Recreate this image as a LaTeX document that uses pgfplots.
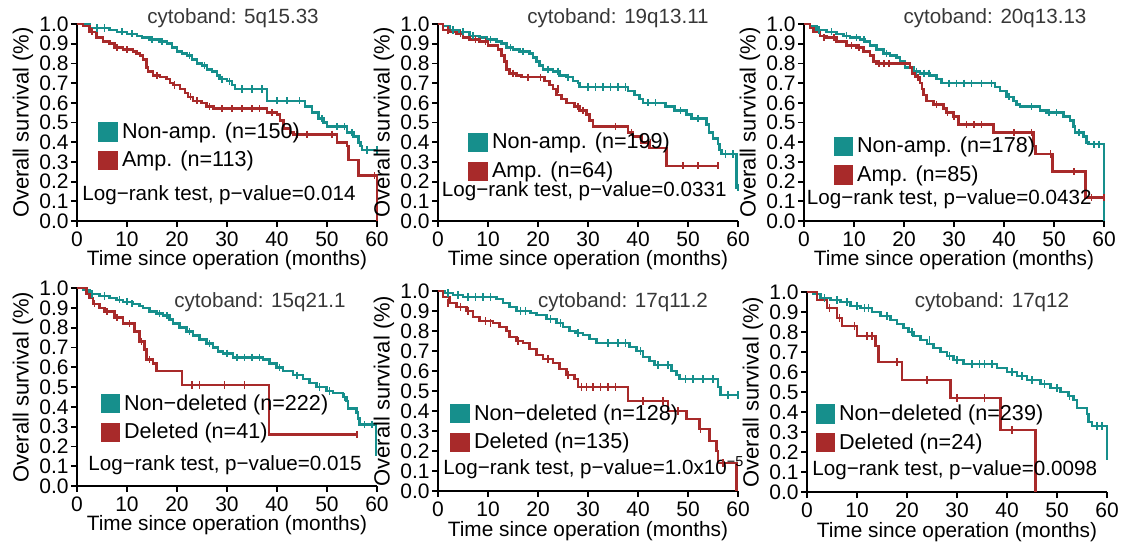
\documentclass[border=0pt]{standalone}
\usepackage{fontspec}
\setmainfont{Liberation Sans}
\usepackage{pgfplots}
\pgfplotsset{compat=1.18}
\definecolor{kmteal}{RGB}{22,143,140}
\definecolor{kmred}{RGB}{168,42,42}
\definecolor{ttl}{RGB}{55,55,55}
\tikzset{
 ttlnode/.style={font=\fontsize{10.3}{11}\selectfont, text=ttl},
 lrnode/.style={anchor=west, font=\fontsize{10.3}{11}\selectfont, inner sep=0pt},
}
\pgfplotsset{
 km/.style={
  scale only axis, width=150pt, height=98.5pt,
  xmin=0, xmax=60, ymin=0, ymax=1,
  axis x line*=bottom, axis y line*=left,
  axis line style={line width=0.9pt},
  xtick={0,10,20,30,40,50,60}, ytick={0,0.1,0.2,0.3,0.4,0.5,0.6,0.7,0.8,0.9,1},
  tick align=outside, tick style={line width=0.9pt, black}, major tick length=3pt,
  /pgf/number format/assume math mode=true,
  y tick label style={/pgf/number format/fixed, /pgf/number format/fixed zerofill, /pgf/number format/precision=1, inner sep=1pt},
  x tick label style={inner sep=2pt},
  tick label style={font=\fontsize{10.5}{11}\selectfont},
  xlabel={Time since operation (months)}, ylabel={Overall survival (\%)},
  xlabel style={font=\fontsize{10.4}{11}\selectfont, at={(axis description cs:0.5,-0.2)}, anchor=center},
  ylabel style={font=\fontsize{11}{12}\selectfont, at={(axis description cs:-0.18,0.5)}, anchor=center},
  clip=false,
  legend cell align=left,
  legend style={draw=none, fill=none, font=\fontsize{10.8}{12}\selectfont, inner sep=0pt, row sep=1pt, anchor=west},
  legend image code/.code={\fill[##1] (0pt,-4.2pt) rectangle (8.5pt,4.2pt);},
 },
 kmline/.style={const plot, line width=1.3pt, no marks},
 cens/.style={only marks, mark=|, mark size=1.8pt, mark options={line width=0.75pt}, forget plot},
}
\begin{document}
\begin{tikzpicture}
\useasboundingbox (0,0) rectangle (562.5pt,-271pt);
% ---------- Panel 1 ----------
\begin{axis}[km, at={(38.5pt,-12pt)}, anchor=north west, legend style={at={(0.07,0.38)}}]
\addplot[kmline, color=kmteal] coordinates {(0,1) (2.5,0.98) (6.5,0.97) (8,0.96) (10,0.95) (12,0.94) (13,0.93) (14.5,0.92) (16.5,0.91) (18,0.90) (19,0.88) (20,0.86) (21,0.85) (22,0.84) (23,0.82) (24,0.80) (25,0.79) (26,0.77) (27,0.76) (28,0.74) (28.5,0.72) (30,0.71) (31,0.69) (31.6,0.67) (38,0.61) (45.6,0.58) (47,0.55) (48.3,0.52) (49.3,0.50) (50,0.48) (54,0.45) (55.3,0.43) (56.3,0.40) (56.7,0.38) (57,0.36) (60,0.36)};
\addlegendentry{Non-amp. (n=150)}
\addplot[kmline, color=kmred] coordinates {(0,1) (1.2,0.99) (2.5,0.96) (3.9,0.93) (5.2,0.91) (6.5,0.90) (7.5,0.88) (9.2,0.87) (11.2,0.86) (11.9,0.85) (12.6,0.84) (13.2,0.82) (13.9,0.78) (14.2,0.76) (15.2,0.74) (16.6,0.73) (17.9,0.72) (18.6,0.70) (19.2,0.69) (20.6,0.67) (21.6,0.65) (22.2,0.63) (23.2,0.61) (24.9,0.60) (25.9,0.58) (27.3,0.57) (38,0.55) (40,0.54) (40.6,0.51) (41.3,0.47) (42.6,0.45) (43.3,0.44) (52,0.40) (54,0.38) (54.3,0.31) (56.3,0.23) (60,0.23) (60,0)};
\addlegendentry{Amp. (n=113)}
\addplot[cens, color=kmteal] coordinates {(4,0.98) (5.5,0.98) (9,0.96) (11,0.95) (15,0.92) (17,0.91) (22.5,0.84) (25.5,0.79) (29,0.72) (30.5,0.71) (33,0.67) (35,0.67) (37,0.67) (40,0.61) (42,0.61) (44.5,0.61) (49,0.52) (52,0.48) (53.5,0.48) (55,0.45) (58,0.36) (60,0.36)};
\addplot[cens, color=kmred] coordinates {(3,0.96) (8,0.88) (10,0.87) (16,0.74) (19.5,0.69) (22.7,0.63) (24,0.61) (26.5,0.58) (29,0.57) (31,0.57) (33,0.57) (35,0.57) (36.5,0.57) (39,0.55) (44,0.44) (46,0.44) (51,0.44) (59.5,0.23)};
\node[ttlnode] at (axis cs:31.2,1.03) {cytoband: 5q15.33};
\node[lrnode] at (axis cs:1.0,0.13) {Log−rank test, p−value=0.014};
\end{axis}
% ---------- Panel 2 ----------
\begin{axis}[km, at={(219pt,-12pt)}, anchor=north west, legend style={at={(0.1,0.325)}}]
\addplot[kmline, color=kmteal] coordinates {(0,1) (1,0.99) (2.3,0.97) (4.3,0.96) (6.3,0.94) (8.3,0.93) (9.7,0.92) (11.7,0.91) (12.7,0.90) (13.7,0.88) (15,0.87) (16.3,0.86) (18.3,0.85) (19,0.83) (19.7,0.81) (20.3,0.79) (21,0.77) (23,0.76) (24.3,0.74) (25.7,0.73) (27,0.71) (28,0.70) (28.3,0.68) (38,0.66) (39.3,0.64) (40.3,0.62) (41,0.60) (45.5,0.58) (47.3,0.56) (49.7,0.54) (50.7,0.52) (53.7,0.49) (54.2,0.45) (55,0.42) (56,0.39) (56.3,0.36) (56.7,0.34) (59.7,0.17) (60,0.17)};
\addlegendentry{Non-amp. (n=199)}
\addplot[kmline, color=kmred] coordinates {(0,1) (1,0.97) (2.3,0.96) (3.7,0.95) (5,0.93) (6.3,0.92) (8.3,0.91) (10,0.89) (12,0.87) (12.7,0.84) (13.3,0.81) (13.7,0.77) (14.3,0.75) (15.7,0.74) (16.7,0.73) (21.3,0.71) (22.3,0.69) (23,0.67) (23.7,0.64) (24.7,0.62) (25.7,0.60) (27.3,0.58) (28.3,0.56) (29.7,0.54) (30.3,0.51) (31,0.48) (38,0.45) (39,0.43) (40.7,0.40) (42.3,0.37) (45.7,0.28) (56,0.28)};
\addlegendentry{Amp. (n=64)}
\addplot[cens, color=kmteal] coordinates {(3,0.97) (5,0.96) (7,0.94) (10.5,0.92) (14.5,0.88) (17,0.86) (22,0.77) (24,0.76) (26,0.73) (30,0.68) (31.5,0.68) (33,0.68) (34.5,0.68) (36,0.68) (37.5,0.68) (42,0.60) (43.5,0.60) (48.5,0.56) (52,0.52) (57.5,0.34) (59,0.34) (60,0.17)};
\addplot[cens, color=kmred] coordinates {(2,0.97) (4.5,0.95) (7.5,0.92) (9.5,0.91) (15,0.75) (18,0.73) (20.5,0.73) (24,0.67) (28,0.58) (29,0.56) (35.5,0.48) (38.7,0.45) (42.5,0.40) (49,0.28) (52,0.28) (56,0.28)};
\node[ttlnode] at (axis cs:36,1.03) {cytoband: 19q13.11};
\node[lrnode] at (axis cs:0.7,0.15) {Log−rank test, p−value=0.0331};
\end{axis}
% ---------- Panel 3 ----------
\begin{axis}[km, at={(402pt,-12pt)}, anchor=north west, legend style={at={(0.097,0.306)}}]
\addplot[kmline, color=kmteal] coordinates {(0,1) (1.2,0.99) (2.5,0.97) (4.5,0.96) (6.5,0.95) (7.9,0.94) (9.2,0.93) (11.2,0.92) (12.2,0.91) (13.2,0.89) (14.5,0.87) (15.9,0.85) (17.2,0.84) (18.5,0.83) (19.2,0.81) (20.2,0.78) (21.9,0.76) (23.2,0.75) (25.2,0.74) (26.5,0.72) (27.5,0.70) (38.2,0.68) (39.2,0.66) (40.5,0.63) (41.9,0.61) (42.5,0.59) (43.2,0.58) (47.2,0.56) (48.5,0.55) (51.9,0.53) (53.2,0.51) (53.9,0.48) (54.2,0.45) (55.9,0.43) (56.5,0.40) (56.9,0.39) (60,0.39) (60,0)};
\addlegendentry{Non-amp. (n=178)}
\addplot[kmline, color=kmred] coordinates {(0,1) (1.2,0.98) (1.9,0.96) (3.2,0.94) (4.5,0.93) (6.5,0.91) (8.5,0.89) (10.5,0.88) (11.9,0.86) (13.2,0.84) (13.9,0.81) (14.5,0.80) (21.2,0.78) (21.6,0.75) (22.3,0.73) (23.2,0.70) (23.6,0.67) (23.9,0.64) (24.5,0.61) (25.9,0.59) (27.9,0.57) (28.5,0.55) (29.9,0.53) (30.9,0.49) (37.9,0.45) (45.9,0.38) (46.3,0.34) (49.7,0.25) (56.3,0.12) (60,0.12)};
\addlegendentry{Amp. (n=85)}
\addplot[cens, color=kmteal] coordinates {(3,0.97) (5.5,0.96) (8.5,0.94) (10.5,0.93) (12,0.92) (16.5,0.85) (22.5,0.76) (24,0.75) (25,0.75) (29,0.70) (30.5,0.70) (32,0.70) (33.5,0.70) (35.5,0.70) (37.5,0.70) (41,0.63) (45.5,0.58) (49,0.55) (50.5,0.55) (55,0.45) (58,0.39) (59,0.39)};
\addplot[cens, color=kmred] coordinates {(4,0.93) (6,0.93) (9.5,0.89) (11,0.88) (15,0.80) (16,0.80) (17,0.80) (22.8,0.73) (26.5,0.59) (28.7,0.55) (30,0.53) (32.5,0.49) (34,0.49) (35.5,0.49) (42,0.45) (45.5,0.45) (49.3,0.34) (54,0.25) (57.5,0.12) (60,0.12)};
\node[ttlnode] at (axis cs:38.2,1.03) {cytoband: 20q13.13};
\node[lrnode] at (axis cs:0.5,0.11) {Log−rank test, p−value=0.0432};
\end{axis}
% ---------- Panel 4 ----------
\begin{axis}[km, height=99pt, at={(38.5pt,-144pt)}, anchor=north west, legend style={at={(0.077,0.343)}}]
\addplot[kmline, color=kmteal] coordinates {(0,1) (1.2,0.99) (2.5,0.97) (4.5,0.96) (6.5,0.95) (7.9,0.94) (9.2,0.93) (11.2,0.92) (12.5,0.91) (13.2,0.90) (14.5,0.88) (15.9,0.87) (17.2,0.86) (18.5,0.84) (19.2,0.82) (20.5,0.80) (21.9,0.78) (23.2,0.76) (24.5,0.74) (25.9,0.72) (27.2,0.70) (28.2,0.68) (29.2,0.67) (31.2,0.65) (37.2,0.64) (38.5,0.62) (39.9,0.60) (41.2,0.58) (43.2,0.56) (45.2,0.54) (46.5,0.52) (47.9,0.50) (49.9,0.48) (51.2,0.47) (53.2,0.45) (53.9,0.43) (54.2,0.39) (55.9,0.37) (56.2,0.34) (56.5,0.31) (59.8,0.16) (60,0.16)};
\addlegendentry{Non−deleted (n=222)}
\addplot[kmline, color=kmred] coordinates {(0,1) (1.9,0.97) (2.5,0.95) (3.2,0.92) (4.5,0.90) (5.5,0.88) (7.5,0.85) (9.2,0.82) (11.5,0.78) (12.5,0.73) (13.5,0.69) (13.9,0.64) (15.2,0.62) (15.9,0.58) (21,0.51) (38.4,0.26) (56.2,0.26)};
\addlegendentry{Deleted (n=41)}
\addplot[cens, color=kmteal] coordinates {(3,0.97) (5.5,0.96) (8.5,0.94) (10,0.93) (11,0.92) (16.5,0.87) (18,0.86) (22.5,0.78) (26.5,0.72) (30,0.67) (32,0.65) (33.5,0.65) (35,0.65) (36.5,0.65) (40.5,0.60) (44,0.56) (48.5,0.50) (50.5,0.48) (53.5,0.45) (57.5,0.31) (59,0.31)};
\addplot[cens, color=kmred] coordinates {(3.5,0.92) (6,0.88) (8,0.85) (10.5,0.82) (12.9,0.73) (14.5,0.64) (23,0.51) (24.5,0.51) (29.5,0.51) (33.5,0.51) (56,0.26)};
\node[ttlnode] at (axis cs:36.6,0.93) {cytoband: 15q21.1};
\node[lrnode] at (axis cs:2.2,0.106) {Log−rank test, p−value=0.015};
\end{axis}
% ---------- Panel 5 ----------
\begin{axis}[km, height=100pt, at={(219pt,-145.5pt)}, anchor=north west, legend style={at={(0.04,0.315)}}]
\addplot[kmline, color=kmteal] coordinates {(0,1) (1.3,0.99) (3,0.98) (5,0.97) (11.7,0.96) (13,0.94) (14.3,0.92) (15.7,0.90) (18.5,0.89) (19.7,0.88) (21.7,0.86) (23.7,0.84) (25,0.82) (26.3,0.80) (27.5,0.79) (29,0.78) (30.3,0.76) (31.7,0.74) (38.3,0.72) (39.7,0.70) (41,0.67) (42.3,0.65) (43.3,0.63) (46.7,0.60) (47.7,0.58) (48.3,0.56) (56,0.52) (56.5,0.48) (60,0.48)};
\addlegendentry{Non−deleted (n=128)}
\addplot[kmline, color=kmred] coordinates {(0,1) (1,0.97) (2.3,0.94) (3.7,0.92) (5.7,0.90) (7,0.87) (8.3,0.85) (11,0.84) (12.3,0.82) (13.7,0.80) (14.3,0.77) (15.7,0.75) (17,0.74) (18.3,0.71) (19.7,0.68) (21,0.66) (23,0.64) (24.3,0.61) (25.7,0.58) (27.3,0.56) (28,0.52) (38,0.45) (46,0.40) (49.7,0.36) (52.3,0.31) (54.3,0.25) (55.7,0.20) (56,0.14) (59.7,0)};
\addlegendentry{Deleted (n=135)}
\addplot[cens, color=kmteal] coordinates {(2,0.99) (4,0.98) (6,0.97) (7.5,0.97) (9,0.97) (10.5,0.97) (16.5,0.90) (17.5,0.90) (22.5,0.86) (24.5,0.84) (28,0.79) (34,0.74) (36,0.74) (37.5,0.74) (40.5,0.70) (44,0.63) (46,0.63) (49.5,0.56) (51,0.56) (53,0.56) (55,0.56) (58,0.48) (60,0.48)};
\addplot[cens, color=kmred] coordinates {(2,0.94) (4.5,0.92) (6,0.90) (9.5,0.85) (10.5,0.84) (16,0.75) (22,0.66) (26,0.58) (28.7,0.52) (29.7,0.52) (31,0.52) (32.5,0.52) (34,0.52) (35.5,0.52) (41,0.45) (45,0.45) (48,0.40) (52.5,0.31) (57,0.14)};
\node[ttlnode] at (axis cs:37,0.945) {cytoband: 17q11.2};
\node[lrnode] at (axis cs:1.0,0.117) {Log−rank test, p−value=1.0x10\textsuperscript{−5}};
\end{axis}
% ---------- Panel 6 ----------
\begin{axis}[km, height=100pt, at={(403.5pt,-146pt)}, anchor=north west, legend style={at={(0.027,0.318)}}]
\addplot[kmline, color=kmteal] coordinates {(0,1) (1.3,0.99) (2.7,0.97) (4.7,0.96) (6.7,0.95) (8.7,0.93) (10.7,0.92) (13,0.90) (14.7,0.88) (16.7,0.86) (18,0.84) (19.3,0.82) (20.3,0.80) (21.3,0.78) (22.7,0.76) (24,0.74) (25.3,0.72) (26.7,0.70) (28,0.68) (29.3,0.66) (31.3,0.64) (38,0.62) (40,0.60) (42,0.58) (44,0.56) (46.7,0.54) (48.7,0.52) (50.7,0.50) (52.3,0.48) (53.3,0.46) (54,0.42) (56,0.39) (56.3,0.35) (57,0.33) (60,0.16)};
\addlegendentry{Non−deleted (n=239)}
\addplot[kmline, color=kmred] coordinates {(0,1) (2,0.96) (4,0.92) (6,0.87) (7,0.83) (10,0.78) (13.7,0.73) (14.3,0.65) (19,0.56) (28.7,0.47) (38.7,0.31) (45.7,0)};
\addlegendentry{Deleted (n=24)}
\addplot[cens, color=kmteal] coordinates {(3.5,0.97) (6,0.96) (8,0.95) (10,0.93) (11.5,0.92) (12.3,0.92) (16,0.88) (21,0.80) (24.5,0.76) (28.5,0.68) (30,0.66) (33,0.64) (34.5,0.64) (35.5,0.64) (37,0.64) (41,0.60) (43,0.58) (45,0.56) (47.5,0.54) (50,0.52) (52.5,0.48) (58,0.33) (59,0.33)};
\addplot[cens, color=kmred] coordinates {(4.5,0.92) (6.5,0.87) (9.5,0.83) (12,0.78) (13,0.78) (18,0.65) (24,0.56) (30,0.47) (35.5,0.47) (41,0.31)};
\node[ttlnode] at (axis cs:37,0.95) {cytoband: 17q12};
\node[lrnode] at (axis cs:1.0,0.11) {Log−rank test, p−value=0.0098};
\end{axis}
\end{tikzpicture}
\end{document}
